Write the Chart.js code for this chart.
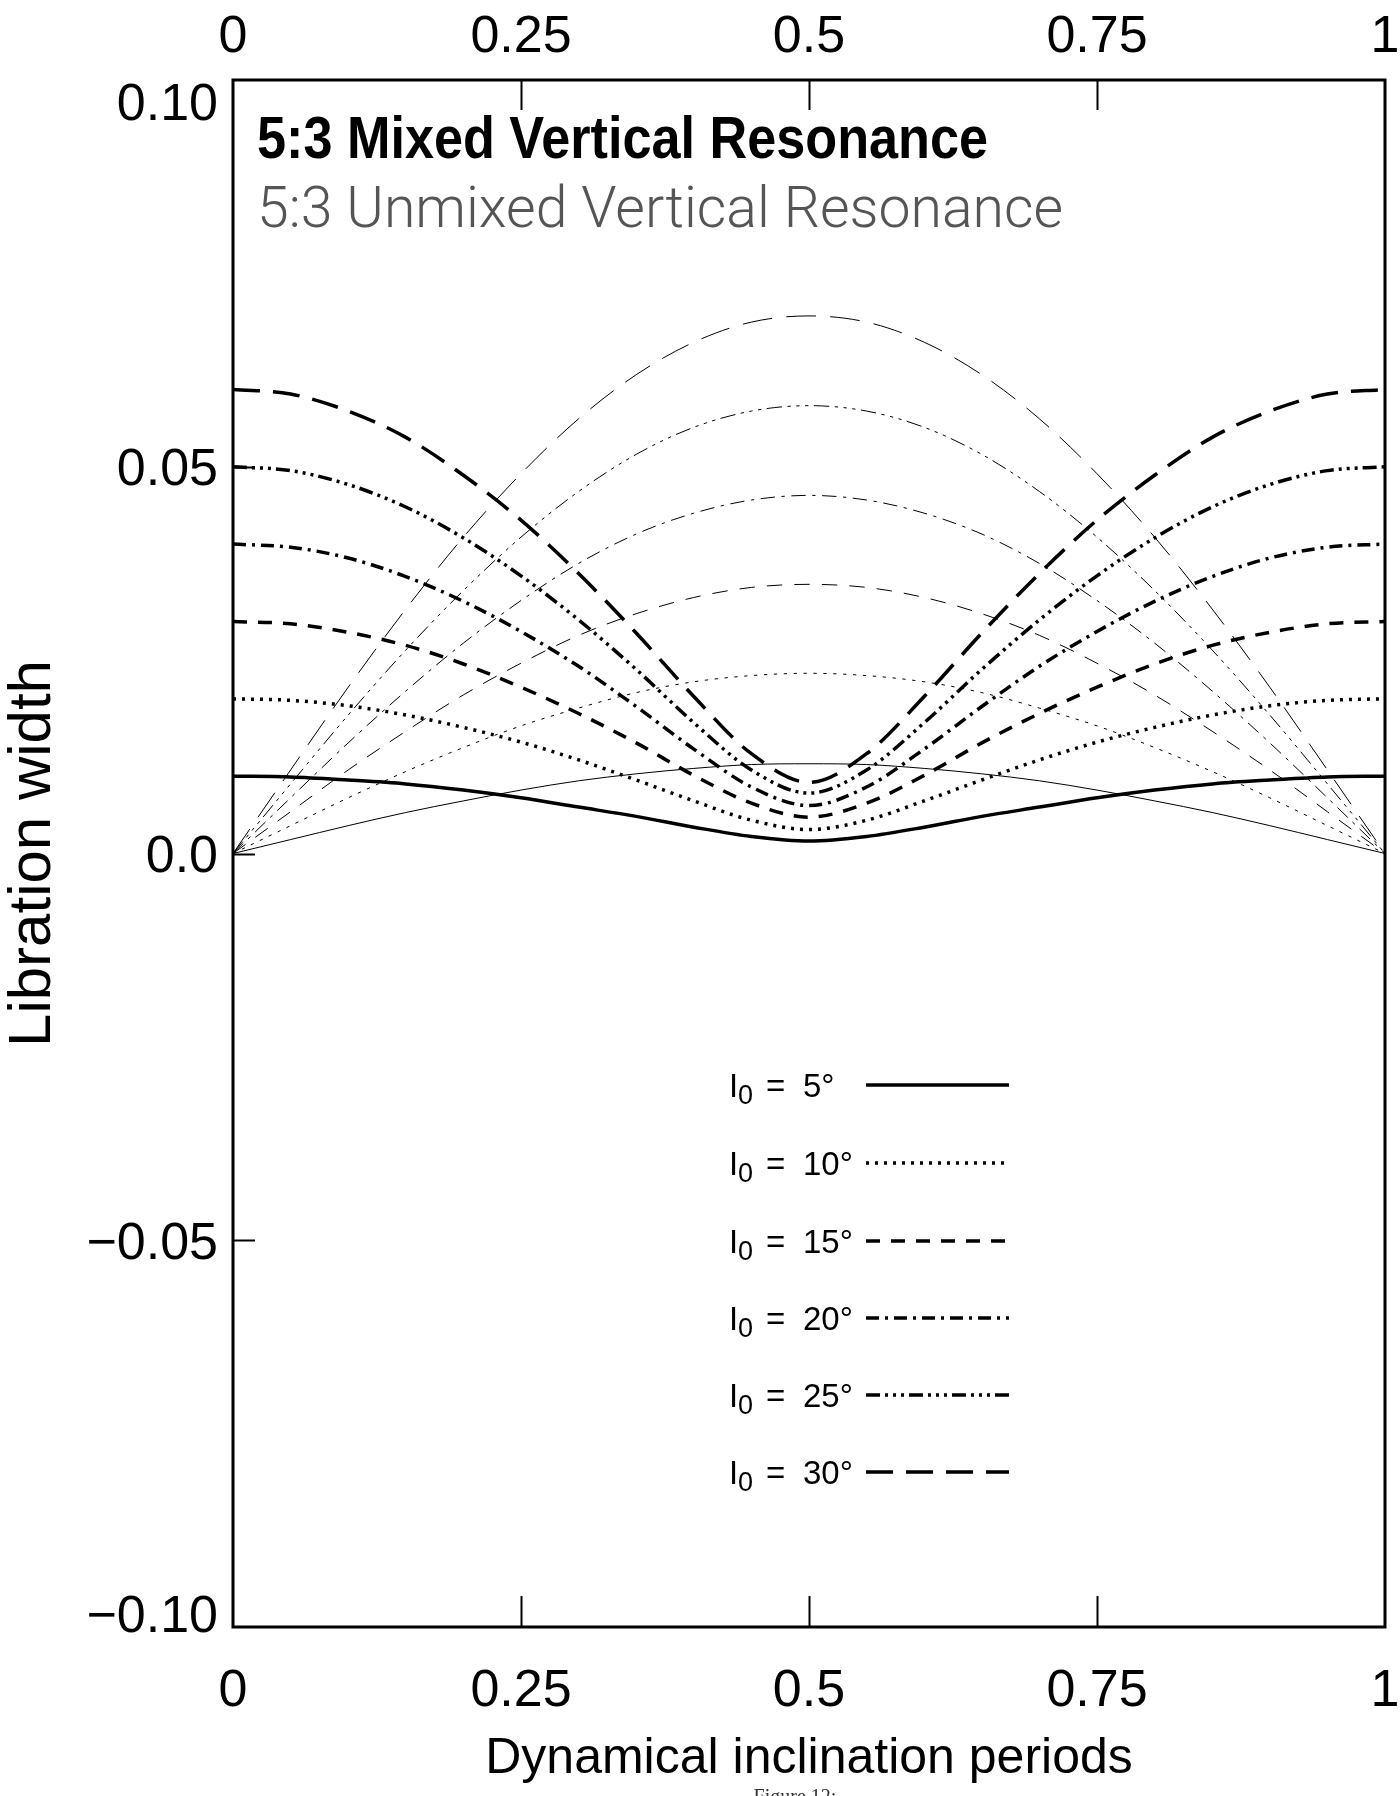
<!DOCTYPE html>
<html>
<head>
<meta charset="utf-8">
<script src="https://cdn.jsdelivr.net/npm/chart.js@4.4.1/dist/chart.umd.min.js"></script>
<style>
  html, body { margin: 0; padding: 0; background: #fff; }
  canvas { display: block; }
</style>
</head>
<body>
<canvas id="c" width="1400" height="1796"></canvas>
<script>
// ---------------- data ----------------
const periods = [0, 0.05, 0.10, 0.15, 0.20, 0.25, 0.30, 0.35, 0.40, 0.45, 0.50,
                 0.55, 0.60, 0.65, 0.70, 0.75, 0.80, 0.85, 0.90, 0.95, 1.00];

// mixed resonance (thick lines)
const mixed5  = [0.0100,0.0099,0.0095,0.0090,0.0082,0.0072,0.0060,0.0048,0.0034,0.0022,0.0016,0.0022,0.0034,0.0048,0.0060,0.0072,0.0082,0.0090,0.0095,0.0099,0.0100];
const mixed10 = [0.0200,0.0198,0.0191,0.0179,0.0163,0.0144,0.0121,0.0095,0.0068,0.0043,0.0031,0.0043,0.0068,0.0095,0.0121,0.0144,0.0163,0.0179,0.0191,0.0198,0.0200];
const mixed15 = [0.0300,0.0297,0.0286,0.0269,0.0245,0.0215,0.0181,0.0143,0.0101,0.0065,0.0047,0.0065,0.0101,0.0143,0.0181,0.0215,0.0245,0.0269,0.0286,0.0297,0.0300];
const mixed20 = [0.0400,0.0396,0.0382,0.0358,0.0326,0.0287,0.0242,0.0190,0.0135,0.0086,0.0062,0.0086,0.0135,0.0190,0.0242,0.0287,0.0326,0.0358,0.0382,0.0396,0.0400];
const mixed25 = [0.0500,0.0495,0.0477,0.0448,0.0408,0.0359,0.0302,0.0238,0.0169,0.0108,0.0078,0.0108,0.0169,0.0238,0.0302,0.0359,0.0408,0.0448,0.0477,0.0495,0.0500];
const mixed30 = [0.0600,0.0594,0.0572,0.0538,0.0489,0.0431,0.0362,0.0285,0.0203,0.0129,0.0092,0.0129,0.0203,0.0285,0.0362,0.0431,0.0489,0.0538,0.0572,0.0594,0.0600];

// unmixed resonance (thin lines)
const unmixed5  = [0,0.0018,0.0036,0.0053,0.0068,0.0082,0.0094,0.0103,0.0110,0.0115,0.0116,0.0115,0.0110,0.0103,0.0094,0.0082,0.0068,0.0053,0.0036,0.0018,0];
const unmixed10 = [0,0.0036,0.0072,0.0106,0.0137,0.0165,0.0188,0.0208,0.0222,0.0230,0.0233,0.0230,0.0222,0.0208,0.0188,0.0165,0.0137,0.0106,0.0072,0.0036,0];
const unmixed15 = [0,0.0054,0.0108,0.0158,0.0205,0.0246,0.0282,0.0310,0.0331,0.0344,0.0348,0.0344,0.0331,0.0310,0.0282,0.0246,0.0205,0.0158,0.0108,0.0054,0];
const unmixed20 = [0,0.0072,0.0143,0.0210,0.0272,0.0327,0.0375,0.0413,0.0440,0.0457,0.0463,0.0457,0.0440,0.0413,0.0375,0.0327,0.0272,0.0210,0.0143,0.0072,0];
const unmixed25 = [0,0.0090,0.0179,0.0263,0.0340,0.0409,0.0468,0.0516,0.0551,0.0572,0.0579,0.0572,0.0551,0.0516,0.0468,0.0409,0.0340,0.0263,0.0179,0.0090,0];
const unmixed30 = [0,0.0108,0.0215,0.0316,0.0409,0.0491,0.0562,0.0619,0.0661,0.0687,0.0695,0.0687,0.0661,0.0619,0.0562,0.0491,0.0409,0.0316,0.0215,0.0108,0];

const seriesLabels = ['5', '10', '15', '20', '25', '30'];
const xTickValues = [0, 0.25, 0.5, 0.75, 1];
const xTickLabels = ['0', '0.25', '0.5', '0.75', '1'];
const yTickValues = [-0.10, -0.05, 0, 0.05, 0.10];
const yTickLabels = ['\u22120.10', '\u22120.05', '0.0', '0.05', '0.10'];
const titleMixed = '5:3 Mixed Vertical Resonance';
const titleUnmixed = '5:3 Unmixed Vertical Resonance';
const xTitle = 'Dynamical inclination periods';
const yTitle = 'Libration width';
const figCaption = 'Figure 12:';

// ---------------- styles ----------------
const FONT = "'Liberation Sans', Arial, sans-serif";
const dashes = [[], [3, 6], [14, 11], [13, 6, 3, 6], [14, 5, 3, 5, 3, 5, 3, 5], [27, 13]];
const mixedSets = [mixed5, mixed10, mixed15, mixed20, mixed25, mixed30];
const unmixedSets = [unmixed5, unmixed10, unmixed15, unmixed20, unmixed25, unmixed30];

function toPts(arr) { return periods.map((p, i) => ({ x: p, y: arr[i] })); }

const datasets = [];
mixedSets.forEach((arr, i) => datasets.push({
  label: 'mixed ' + seriesLabels[i], data: toPts(arr),
  borderColor: '#000', borderWidth: 3.5, borderDash: dashes[i], borderCapStyle: 'butt',
  pointRadius: 0, cubicInterpolationMode: 'monotone', fill: false
}));
unmixedSets.forEach((arr, i) => datasets.push({
  label: 'unmixed ' + seriesLabels[i], data: toPts(arr),
  borderColor: '#000', borderWidth: 1, borderDash: dashes[i].length ? dashes[i].map(d => d * 1.1) : [],
  borderCapStyle: 'butt', pointRadius: 0, cubicInterpolationMode: 'monotone', fill: false
}));

const bgPlugin = {
  id: 'bg',
  beforeDraw(chart) {
    const ctx = chart.ctx;
    ctx.save(); ctx.fillStyle = '#fff'; ctx.fillRect(0, 0, chart.width, chart.height); ctx.restore();
  }
};

function fitText(ctx, text, x, y, width) {
  const w = ctx.measureText(text).width;
  ctx.save();
  ctx.translate(x, y);
  ctx.scale(width / w, 1);
  ctx.fillText(text, 0, 0);
  ctx.restore();
}

const decoPlugin = {
  id: 'deco',
  afterDraw(chart) {
    const { ctx, chartArea: a, scales } = chart;
    ctx.save();
    // frame
    ctx.strokeStyle = '#000';
    ctx.lineWidth = 3;
    ctx.setLineDash([]);
    ctx.strokeRect(a.left, a.top, a.right - a.left, a.bottom - a.top);
    // inward ticks
    ctx.lineWidth = 2;
    xTickValues.forEach(v => {
      if (v === 0 || v === 1) return;
      const px = Math.round(scales.x.getPixelForValue(v)) + 0.5;
      ctx.beginPath();
      ctx.moveTo(px, a.bottom); ctx.lineTo(px, a.bottom - 31);
      ctx.moveTo(px, a.top); ctx.lineTo(px, a.top + 30);
      ctx.stroke();
    });
    yTickValues.forEach(v => {
      if (Math.abs(v) > 0.09) return;
      const py = Math.round(scales.y.getPixelForValue(v)) + 0.5;
      ctx.beginPath();
      ctx.moveTo(a.left, py); ctx.lineTo(a.left + 22, py);
      ctx.stroke();
    });
    // y tick labels (extreme labels nudged inside the frame, as in the source)
    ctx.fillStyle = '#000';
    ctx.font = "52px " + FONT;
    ctx.textAlign = 'right';
    ctx.textBaseline = 'alphabetic';
    yTickValues.forEach((v, i) => {
      let py = scales.y.getPixelForValue(v);
      if (v > 0.09) py += 21;
      if (v < -0.09) py -= 14;
      ctx.fillText(yTickLabels[i], a.left - 15, py + 18.5);
    });
    // titles
    ctx.textAlign = 'left';
    ctx.fillStyle = '#000';
    ctx.font = "bold 60px " + FONT;
    fitText(ctx, titleMixed, 257, 158, 731);
    ctx.fillStyle = '#555';
    ctx.font = "300 58px Roboto, " + FONT;
    fitText(ctx, titleUnmixed, 257, 227, 806);
    // legend
    const rowY = [1085, 1163, 1241, 1318, 1395, 1472];
    ctx.fillStyle = '#000';
    ctx.strokeStyle = '#000';
    rowY.forEach((y, i) => {
      ctx.font = "33px " + FONT;
      ctx.fillText('I', 729, y + 12);
      ctx.font = "27px " + FONT;
      ctx.fillText('0', 738, y + 19);
      ctx.font = "33px " + FONT;
      ctx.fillText('=', 766, y + 12);
      ctx.fillText(seriesLabels[i] + '\u00B0', 803, y + 12);
      ctx.beginPath();
      ctx.lineWidth = 3.5;
      ctx.setLineDash(dashes[i]);
      ctx.lineCap = 'butt';
      ctx.moveTo(866, y); ctx.lineTo(1009, y);
      ctx.stroke();
    });
    ctx.setLineDash([]);
    // caption (cut off by the bottom edge, as in the source)
    ctx.font = "20px 'Liberation Serif', serif";
    ctx.fillStyle = '#333';
    ctx.textAlign = 'center';
    ctx.fillText(figCaption, 795, 1803);
    ctx.restore();
  }
};

const tickFont = { family: FONT, size: 52 };
const xLabel = (v) => xTickLabels[xTickValues.findIndex(t => Math.abs(t - v) < 1e-9)];

new Chart(document.getElementById('c'), {
  type: 'line',
  data: { datasets },
  options: {
    responsive: false,
    animation: false,
    devicePixelRatio: 1,
    layout: { padding: { left: 0, right: 15, top: 0, bottom: 0 } },
    plugins: { legend: { display: false }, tooltip: { enabled: false } },
    scales: {
      x: {
        type: 'linear', position: 'bottom', min: 0, max: 1,
        afterBuildTicks: s => { s.ticks = xTickValues.map(v => ({ value: v })); },
        afterFit: s => { s.height = 169; s.paddingLeft = 0; s.paddingRight = 0; },
        ticks: { font: tickFont, color: '#000', padding: 33, maxRotation: 0, callback: xLabel },
        grid: { display: false, drawTicks: false },
        border: { display: false },
        title: { display: true, text: xTitle, color: '#000',
                 font: { family: FONT, size: 50 }, padding: { top: 0, bottom: 7 } }
      },
      x2: {
        type: 'linear', position: 'top', min: 0, max: 1,
        afterBuildTicks: s => { s.ticks = xTickValues.map(v => ({ value: v })); },
        afterFit: s => { s.height = 80; s.paddingLeft = 0; s.paddingRight = 0; },
        ticks: { font: tickFont, color: '#000', padding: 11, maxRotation: 0, callback: xLabel },
        grid: { display: false, drawTicks: false },
        border: { display: false }
      },
      y: {
        type: 'linear', position: 'left', min: -0.1, max: 0.1,
        afterBuildTicks: s => { s.ticks = yTickValues.map(v => ({ value: v })); },
        afterFit: s => { s.width = 233; s.paddingTop = 0; s.paddingBottom = 0; },
        ticks: { display: false },
        grid: { display: false, drawTicks: false },
        border: { display: false },
        title: { display: true, text: yTitle, color: '#000',
                 font: { family: FONT, size: 60, lineHeight: 1 }, padding: { top: 3, bottom: 0 } }
      }
    }
  },
  plugins: [bgPlugin, decoPlugin]
});
</script>
</body>
</html>
